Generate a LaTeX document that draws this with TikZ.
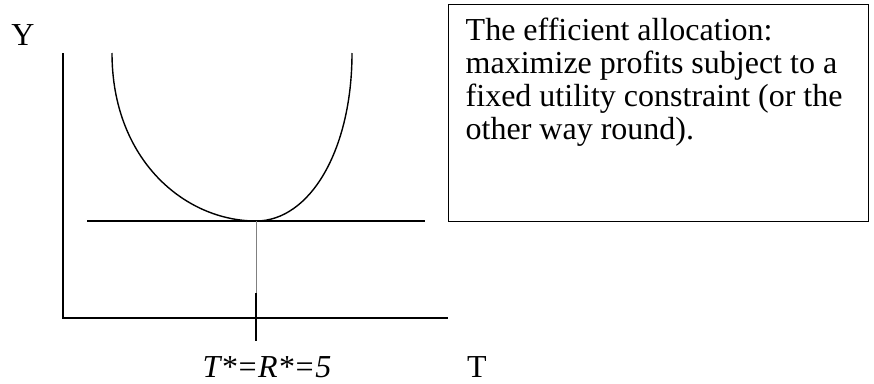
\documentclass[tikz,border=0pt]{standalone}
\usepackage{fontspec}
\setmainfont{Liberation Serif}
\begin{document}
\begin{tikzpicture}[x=1pt, y=-1pt, line width=1.4pt]
        \useasboundingbox (0,0) rectangle (874,383);
        % Axes
        \draw (63,53) -- (63,318) -- (448,318);
        \draw (256,293) -- (256,341);
        % Budget line and indifference curve
        \draw (87,221) -- (425,221);
        \draw (112,53) .. controls (112,160) and (185,221) .. (256,221)
              .. controls (310,221) and (352,150) .. (352,53);
        \draw[gray, line width=0.6pt] (256,221) -- (256,293);
        
        % Labels
        \node[anchor=base, inner sep=0pt, font=\fontsize{32}{36}\selectfont] (ylab) at (23,45) {Y};
        \node[anchor=base, inner sep=0pt, font=\fontsize{32}{36}\selectfont] (tlab) at (477,377) {T};
        \node[anchor=base, inner sep=0pt, font=\fontsize{32}{36}\selectfont\itshape] (tstar) at (267,377) {T*=R*=5};
        
        % Text box
        \draw[line width=1pt] (448,4) rectangle (868,221);
        \node[anchor=north west, align=left, inner sep=0pt,
              font=\fontsize{32}{33}\selectfont] (note) at (465,17)
              {The efficient allocation:\\maximize profits subject to a\\fixed utility constraint (or the\\other way round).};
    \end{tikzpicture}
\end{document}
